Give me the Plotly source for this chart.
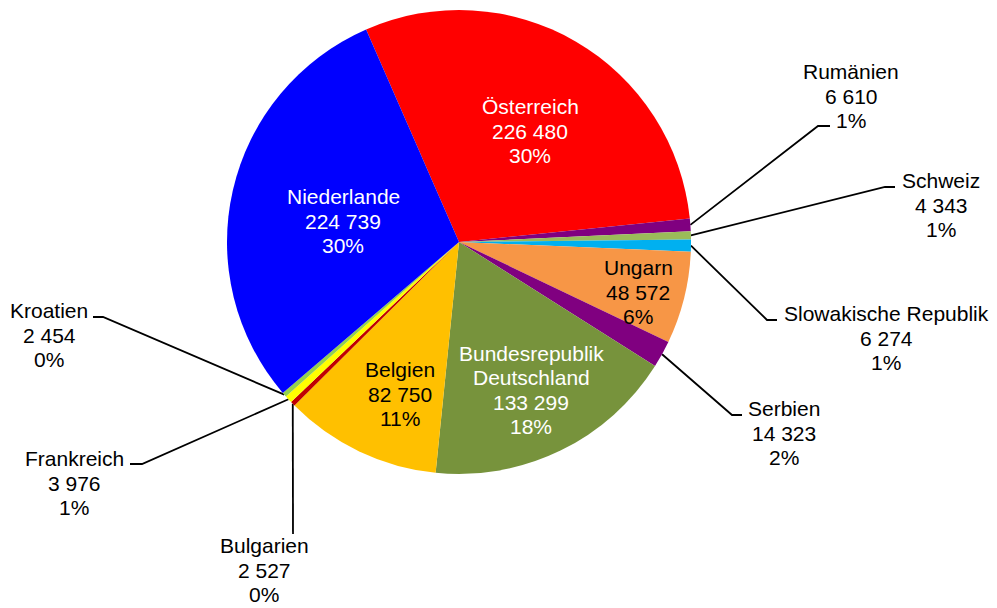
import math
import plotly.graph_objects as go

# ---- data -------------------------------------------------------------
countries = [
    "Österreich", "Rumänien", "Schweiz", "Slowakische Republik", "Ungarn",
    "Serbien", "Bundesrepublik Deutschland", "Belgien", "Bulgarien",
    "Frankreich", "Kroatien", "Niederlande",
]
values = [226480, 6610, 4343, 6274, 48572, 14323, 133299, 82750, 2527, 3976, 2454, 224739]

# ---- style ------------------------------------------------------------
slice_colors = [
    "#FF0000", "#800080", "#9BBB59", "#00B0F0", "#F79646", "#800080",
    "#77933C", "#FFC000", "#C00000", "#FFFF00", "#92D050", "#0000FF",
]
FONT = "Arial, 'Liberation Sans', sans-serif"
FONT_SIZE = 21
LINE_GAP = 24.5                # distance between label lines in pixels

W, H = 997, 608
CX, CY, R = 459, 242, 232      # pie centre and radius in pixels
ROTATION = -23.6               # start angle of first slice (deg, clockwise from 12 o'clock)

# labels drawn inside their slice: centre position and text colour
inside_labels = {
    "Österreich": (530, 131, "white"),
    "Niederlande": (343, 221, "white"),
    "Bundesrepublik Deutschland": (531, 390, "white"),
    "Belgien": (400, 394, "black"),
    "Ungarn": (638, 292, "black"),
}
# labels outside: text centre, elbow of leader line, end of leader line
outside_labels = {
    "Rumänien": ((851, 96), (818, 126), (830, 126)),
    "Schweiz": ((941, 205), (885, 187), (895, 187)),
    "Slowakische Republik": ((886, 338), (767, 320), (777, 320)),
    "Serbien": ((784, 433), (732, 415), (742, 415)),
    "Kroatien": ((49, 335), (103, 317), (93, 317)),
    "Frankreich": ((74, 483), (142, 464), (130, 464)),
    "Bulgarien": ((264, 570), (293, 534), None),
}

total = sum(values)


def fmt_num(v):
    return f"{v:,}".replace(",", " ")


def label_lines(name, v):
    head = name.split(" ") if name == "Bundesrepublik Deutschland" else [name]
    return head + [fmt_num(v), f"{round(v / total * 100)}%"]


# mid angle of every slice, used to anchor the leader lines on the rim
mid_angle = {}
acc = ROTATION
for name, v in zip(countries, values):
    span = v / total * 360.0
    mid_angle[name] = acc + span / 2
    acc += span

fig = go.Figure()

fig.add_trace(go.Pie(
    labels=countries,
    values=values,
    sort=False,
    direction="clockwise",
    rotation=ROTATION,
    marker=dict(colors=slice_colors, line=dict(width=0)),
    textinfo="none",
    hoverinfo="label+value+percent",
    showlegend=False,
    domain=dict(x=[(CX - R) / W, (CX + R) / W], y=[1 - (CY + R) / H, 1 - (CY - R) / H]),
))

# leader lines
lx, ly = [], []
for name, (txt, elbow, end) in outside_labels.items():
    a = math.radians(mid_angle[name])
    sx, sy = CX + R * math.sin(a), CY - R * math.cos(a)
    pts = [(sx, sy), elbow] + ([end] if end else [])
    for px, py in pts:
        lx.append(px)
        ly.append(py)
    lx.append(None)
    ly.append(None)

fig.add_trace(go.Scatter(
    x=lx, y=ly, mode="lines",
    line=dict(color="black", width=1.8),
    hoverinfo="skip", showlegend=False,
))

annotations = []
for name, v in zip(countries, values):
    if name in inside_labels:
        x, y, col = inside_labels[name]
    else:
        (x, y), _, _ = outside_labels[name]
        col = "black"
    lines = label_lines(name, v)
    n = len(lines)
    for i, line in enumerate(lines):
        annotations.append(dict(
            x=x, y=y + (i - (n - 1) / 2) * LINE_GAP, xref="x", yref="y",
            text=line,
            showarrow=False, xanchor="center", yanchor="middle", align="center",
            borderpad=0,
            font=dict(family=FONT, size=FONT_SIZE, color=col),
        ))

fig.update_layout(
    width=W, height=H,
    margin=dict(l=0, r=0, t=0, b=0),
    paper_bgcolor="white", plot_bgcolor="rgba(0,0,0,0)",
    showlegend=False,
    xaxis=dict(range=[0, W], visible=False, fixedrange=True, domain=[0, 1]),
    yaxis=dict(range=[H, 0], visible=False, fixedrange=True, domain=[0, 1]),
    annotations=annotations,
)

fig.write_html("out.html")
